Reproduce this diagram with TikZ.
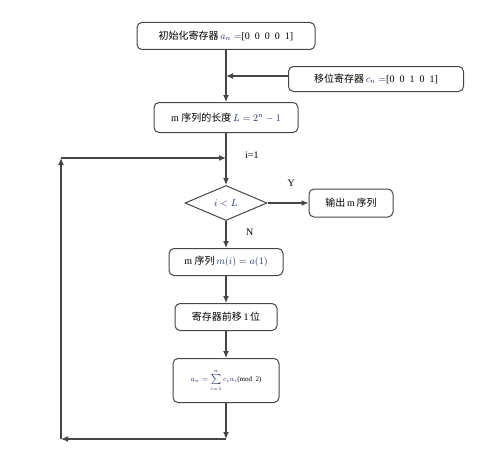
\documentclass[tikz,border=0pt]{standalone}
\usepackage{fontspec}
\setmainfont{Liberation Serif}
\newfontfamily\cjk{Noto Sans CJK SC}
\usetikzlibrary{positioning,arrows.meta,shapes.geometric}
\definecolor{edgegray}{RGB}{70,70,70}
\definecolor{mathblue}{RGB}{30,40,110}
\newcommand{\mv}[1]{\textcolor{mathblue}{$#1$}}

\begin{document}
\begin{tikzpicture}[x=1pt, y=-1pt, every node/.style={font=\small}]
\tikzset{
  box/.style={draw=edgegray, rounded corners=5pt, align=center, inner sep=3pt, line width=1pt, font=\fontsize{10}{12}\selectfont},
  decision/.style={draw=edgegray, diamond, aspect=2.3, inner sep=0pt, line width=1pt, minimum width=82pt, minimum height=35pt, font=\fontsize{10}{12}\selectfont},
  arrow/.style={-{Latex[length=7pt,width=6pt]}, line width=1.2pt, draw=edgegray},
  lbl/.style={font=\fontsize{10}{12}\selectfont, inner sep=0pt}
}
\useasboundingbox (0,0) rectangle (497,460);

% Nodes
\node[box, minimum width=178pt, minimum height=27pt] (init) at (226,36) {{\cjk 初始化寄存器}\,\mv{a_n=}[0\enspace0\enspace0\enspace0\enspace1]};
\coordinate[below=26pt of init] (join);
\node[box, minimum width=175pt, minimum height=25pt, right=62pt of join, yshift=-3pt] (shift) {{\cjk 移位寄存器}\,\mv{c_n=}[0\enspace0\enspace1\enspace0\enspace1]};
\node[box, minimum width=144pt, minimum height=30pt, below=52pt of init] (len) {m {\cjk 序列的长度}\,\mv{L=2^n-1}};
\coordinate[below=25pt of len] (entry);
\node[decision, below=52pt of len] (test) {\mv{i<L}};
\node[box, minimum width=84pt, minimum height=28pt, right=41pt of test] (out) {{\cjk 输出}\,m\,{\cjk 序列}};
\node[box, minimum width=114pt, minimum height=27pt, below=27pt of test] (seq) {m {\cjk 序列}\,\mv{m(i)=a(1)}};
\node[box, minimum width=102pt, minimum height=27pt, below=27pt of seq] (move) {{\cjk 寄存器前移}\,1\,{\cjk 位}};
\node[box, minimum width=106pt, minimum height=44pt, below=27pt of move, font=\scriptsize] (fb) {\mv{a_n=\sum\limits_{i=1}^{n} c_i a_i}(mod\enspace2)};
\coordinate[below=36pt of fb] (back);
\coordinate[left=165pt of back] (backL);
\coordinate (entryL) at (backL |- entry);

% Labels
\node[lbl, right=19pt of entry, yshift=3pt] (ione) {i=1};
\node[lbl, above right=16pt and 20pt of test.east] (yes) {Y};
\node[lbl, below right=8pt and 20pt of test.south] (no) {N};

% Arrows
\draw[arrow] (init) -- (len);
\draw[arrow] (shift.west |- join) -- (join);
\draw[arrow] (len) -- (test);
\draw[arrow] (test) -- (out);
\draw[arrow] (test) -- (seq);
\draw[arrow] (seq) -- (move);
\draw[arrow] (move) -- (fb);
\draw[arrow] (fb) -- (back);
\draw[arrow] (back) -- (backL);
\draw[arrow] (backL) -- (entryL);
\draw[arrow] (entryL) -- (entry);
\end{tikzpicture}
\end{document}
